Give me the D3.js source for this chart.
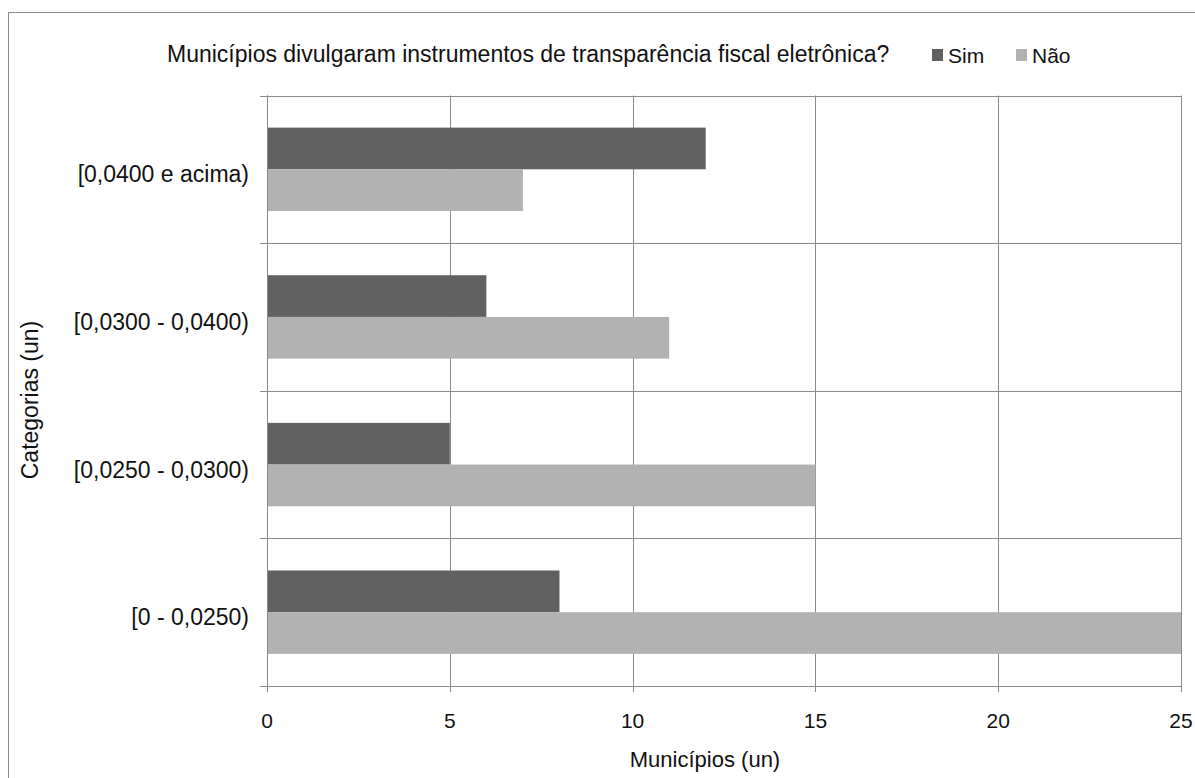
<!DOCTYPE html>
<html>
<head>
<meta charset="utf-8">
<script src="https://cdn.jsdelivr.net/npm/d3@7"></script>
<style>
  html, body { margin: 0; padding: 0; background: #fff; }
  svg { display: block; font-family: "Liberation Sans", Arial, sans-serif; }
</style>
</head>
<body>
<svg id="chart" width="1195" height="778"></svg>
<script>
// Categories, top to bottom
const categories = ["[0,0400 e acima)", "[0,0300 - 0,0400)", "[0,0250 - 0,0300)", "[0 - 0,0250)"];
const seriesNames = ["Sim", "Não"];
const simValues = [12, 6, 5, 8];
const naoValues = [7, 11, 15, 25];
const xTicks = [0, 5, 10, 15, 20, 25];
const colors = ["#616161", "#b2b2b2"];

const svg = d3.select("#chart");
const W = 1195, H = 778;
const m = { left: 267, right: 1181, top: 95.5, bottom: 686 };
const gridColor = "#8a8a8a";
const textColor = "#111";

// Outer chart frame
svg.append("rect")
  .attr("x", 8.5).attr("y", 12.5)
  .attr("width", W + 10).attr("height", H + 10)
  .attr("fill", "#fff").attr("stroke", "#8c8c8c").attr("stroke-width", 1);

const x = d3.scaleLinear().domain([0, 25]).range([m.left, m.right]);
const y = d3.scaleBand().domain(categories).range([m.top, m.bottom]).paddingInner(0).paddingOuter(0);
const inner = d3.scaleBand().domain(seriesNames)
  .range([0, y.bandwidth()]).paddingOuter(0.77).paddingInner(0);

// Vertical gridlines with ticks below the axis
svg.append("g")
  .selectAll("line").data(xTicks).join("line")
  .attr("x1", d => Math.round(x(d)) + 0.5).attr("x2", d => Math.round(x(d)) + 0.5)
  .attr("y1", m.top).attr("y2", m.bottom + 6)
  .attr("stroke", gridColor).attr("stroke-width", 1);

// Horizontal category separators with ticks left of the axis
const seps = categories.map(c => y(c)).concat([m.bottom]);
svg.append("g")
  .selectAll("line").data(seps).join("line")
  .attr("x1", m.left - 7).attr("x2", m.right)
  .attr("y1", d => Math.round(d) + 0.5).attr("y2", d => Math.round(d) + 0.5)
  .attr("stroke", gridColor).attr("stroke-width", 1);

// Bars
const rows = categories.map((c, i) => ({ cat: c, vals: [simValues[i], naoValues[i]] }));
const groups = svg.append("g").selectAll("g").data(rows).join("g")
  .attr("transform", d => `translate(0,${y(d.cat)})`);
groups.selectAll("rect")
  .data(d => d.vals.map((v, j) => ({ name: seriesNames[j], v, j })))
  .join("rect")
  .attr("x", x(0) + 1)
  .attr("y", d => inner(d.name))
  .attr("width", d => x(d.v) - x(0) - 1)
  .attr("height", inner.bandwidth())
  .attr("fill", d => colors[d.j]);

// Axis at 0 drawn over bars
svg.append("line")
  .attr("x1", m.left + 0.5).attr("x2", m.left + 0.5)
  .attr("y1", m.top).attr("y2", m.bottom + 6)
  .attr("stroke", gridColor);

// X tick labels
svg.append("g").selectAll("text").data(xTicks).join("text")
  .attr("x", d => x(d)).attr("y", 728)
  .attr("text-anchor", "middle")
  .attr("font-size", 21).attr("fill", textColor)
  .text(d => d);

// Category labels
svg.append("g").selectAll("text").data(categories).join("text")
  .attr("x", 249).attr("y", d => y(d) + y.bandwidth() / 2 + 13)
  .attr("text-anchor", "end")
  .attr("font-size", 23).attr("fill", textColor)
  .text(d => d);

// Axis titles
svg.append("text")
  .attr("x", 705).attr("y", 767)
  .attr("text-anchor", "middle").attr("font-size", 22).attr("fill", textColor)
  .text("Municípios (un)");
svg.append("text")
  .attr("transform", "translate(38,400) rotate(-90)")
  .attr("text-anchor", "middle").attr("font-size", 23).attr("fill", textColor)
  .text("Categorias (un)");

// Title
svg.append("text")
  .attr("x", 167).attr("y", 62)
  .attr("font-size", 23).attr("fill", textColor)
  .text("Municípios divulgaram instrumentos de transparência fiscal eletrônica?");

// Legend
const legendX = [932, 1016];
const legend = svg.append("g").selectAll("g").data(seriesNames).join("g")
  .attr("transform", (d, i) => `translate(${legendX[i]},0)`);
legend.append("rect")
  .attr("x", 0).attr("y", 49).attr("width", 11).attr("height", 12)
  .attr("fill", (d, i) => colors[i]);
legend.append("text")
  .attr("x", 16).attr("y", 63)
  .attr("font-size", 21).attr("fill", textColor)
  .text(d => d);
</script>
</body>
</html>
